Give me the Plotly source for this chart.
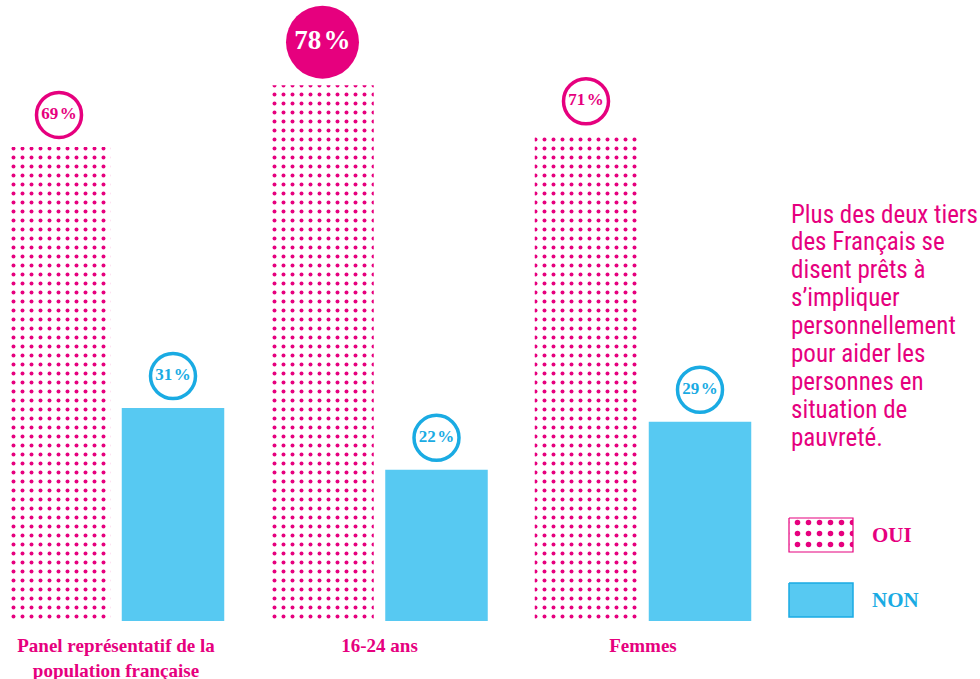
import plotly.graph_objects as go

# ---------------- data ----------------
categories = ["Panel représentatif de la<br>population française", "16-24 ans", "Femmes"]
oui = [69, 78, 71]
non = [31, 22, 29]
highlight_oui = [False, True, False]   # the largest share gets a filled bubble
legend_labels = ["OUI", "NON"]
note_lines = ["Plus des deux tiers", "des Français se", "disent prêts à", "s’impliquer",
              "personnellement", "pour aider les", "personnes en", "situation de", "pauvreté."]

# ---------------- style / layout constants ----------------
W, H = 980, 679
PINK = "#E6007E"
BLUE_FILL = "#57C9F2"
BLUE_LINE = "#1AABE3"
SERIF = "Liberation Serif, Times New Roman, serif"
NARROW = "Liberation Sans Narrow, Arial Narrow, Roboto Condensed, Roboto, sans-serif"

BOTTOM = 58                 # px below the baseline
PLOT_H = H - BOTTOM         # px of plot area
PX_PER_PCT = 6.87
GROUP0_PX = 116
GROUP_STEP_PX = 263.5
BAR_W_PX = 102.5
BAR_OFF_PX = 57
SMALL_D, BIG_D = 45, 73     # bubble diameters
SMALL_GAP, BIG_GAP = 32, 43 # bubble centre above bar top (px)
NOTE_X, NOTE_Y0, NOTE_STEP = 789, 214, 27.9

ymax = PLOT_H / PX_PER_PCT
xmin = -GROUP0_PX / GROUP_STEP_PX
xmax = (W - GROUP0_PX) / GROUP_STEP_PX
bw = BAR_W_PX / GROUP_STEP_PX
off = BAR_OFF_PX / GROUP_STEP_PX

idx = list(range(len(categories)))
x_oui = [i - off for i in idx]
x_non = [i + off for i in idx]


def pct(v):
    return f"{v}\u200a%"


fig = go.Figure()

# bars
fig.add_trace(go.Bar(
    x=x_oui, y=oui, width=bw, name=legend_labels[0],
    marker=dict(color="white", line_width=0,
                pattern=dict(shape=".", fgcolor=PINK, bgcolor="white",
                             size=9, solidity=0.15, fillmode="replace")),
    showlegend=False, hoverinfo="skip"))
fig.add_trace(go.Bar(
    x=x_non, y=non, width=bw, name=legend_labels[1],
    marker=dict(color=BLUE_FILL, line_width=0),
    showlegend=False, hoverinfo="skip"))

# value bubbles
oui_y = [v + (BIG_GAP if h else SMALL_GAP) / PX_PER_PCT for v, h in zip(oui, highlight_oui)]
fig.add_trace(go.Scatter(
    x=x_oui, y=oui_y, mode="markers+text",
    text=[pct(v) for v in oui], textposition="middle center",
    textfont=dict(family=SERIF, weight="bold",
                  size=[27 if h else 17 for h in highlight_oui],
                  color=["white" if h else PINK for h in highlight_oui]),
    marker=dict(size=[BIG_D if h else SMALL_D for h in highlight_oui], opacity=1,
                color=[PINK if h else "white" for h in highlight_oui],
                line=dict(color=PINK, width=[0 if h else 3.5 for h in highlight_oui])),
    showlegend=False, hoverinfo="skip", cliponaxis=False))
fig.add_trace(go.Scatter(
    x=x_non, y=[v + SMALL_GAP / PX_PER_PCT for v in non], mode="markers+text",
    text=[pct(v) for v in non], textposition="middle center",
    textfont=dict(family=SERIF, weight="bold", size=17, color=BLUE_LINE),
    marker=dict(size=SMALL_D, color="white", opacity=1,
                line=dict(color=BLUE_LINE, width=3.5)),
    showlegend=False, hoverinfo="skip", cliponaxis=False))

# custom legend swatches (overlay axes in pixel units)
LEG_X0, LEG_W, LEG_H = 789, 64, 34
LEG_Y0 = [518, 583]
for k, (y0, lab) in enumerate(zip(LEG_Y0, legend_labels)):
    xs = [LEG_X0, LEG_X0 + LEG_W, LEG_X0 + LEG_W, LEG_X0, LEG_X0]
    ys = [y0, y0, y0 + LEG_H, y0 + LEG_H, y0]
    if k == 0:
        fig.add_trace(go.Scatter(
            x=xs, y=ys, xaxis="x2", yaxis="y2", mode="lines", fill="toself",
            fillcolor="white",
            fillpattern=dict(shape=".", fgcolor=PINK, bgcolor="white", size=11,
                             solidity=0.2, fillmode="replace"),
            line=dict(color=PINK, width=1.2), showlegend=False, hoverinfo="skip"))
    else:
        fig.add_trace(go.Scatter(
            x=xs, y=ys, xaxis="x2", yaxis="y2", mode="lines", fill="toself",
            fillcolor=BLUE_FILL, line=dict(color=BLUE_LINE, width=1.5),
            showlegend=False, hoverinfo="skip"))
    fig.add_annotation(
        x=870, y=y0 + LEG_H / 2, xref="x2", yref="y2", xanchor="left", yanchor="middle",
        text=lab, showarrow=False,
        font=dict(family=SERIF, weight="bold", size=21, color=PINK if k == 0 else BLUE_LINE))

# side note, one annotation per line for exact leading
for k, line in enumerate(note_lines):
    fig.add_annotation(
        x=NOTE_X, y=NOTE_Y0 + k * NOTE_STEP, xref="x2", yref="y2",
        xanchor="left", yanchor="middle", align="left", showarrow=False, text=line,
        font=dict(family=NARROW, size=25, color=PINK))

fig.update_layout(
    width=W, height=H, margin=dict(l=0, r=0, t=0, b=0, pad=0),
    paper_bgcolor="white", plot_bgcolor="rgba(0,0,0,0)",
    barmode="overlay", showlegend=False,
    xaxis=dict(domain=[0, 1], range=[xmin, xmax], tickvals=idx, ticktext=categories,
               tickfont=dict(family=SERIF, weight="bold", size=19, color=PINK),
               showgrid=False, zeroline=False, showline=False,
               ticks="outside", ticklen=7, tickcolor="rgba(0,0,0,0)",
               fixedrange=True, automargin=False),
    yaxis=dict(domain=[BOTTOM / H, 1], range=[0, ymax], visible=False,
               fixedrange=True, automargin=False),
    xaxis2=dict(domain=[0, 1], range=[0, W], anchor="y2", visible=False, fixedrange=True),
    yaxis2=dict(domain=[0, 1], range=[H, 0], anchor="x2", visible=False, fixedrange=True),
)

fig.write_html("out.html")
